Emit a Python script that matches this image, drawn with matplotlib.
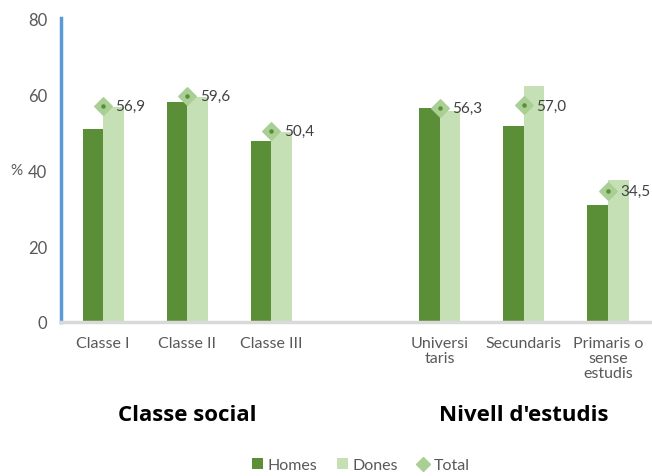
import matplotlib
matplotlib.use("Agg")
import matplotlib.pyplot as plt
import matplotlib.transforms as mtransforms
from matplotlib.lines import Line2D
from matplotlib.patches import Patch

categories = ["Classe I", "Classe II", "Classe III",
              "Universi\ntaris", "Secundaris", "Primaris o\nsense\nestudis"]
homes = [50.7, 57.8, 47.6, 56.3, 51.7, 30.9]
dones = [56.6, 59.3, 50.1, 55.5, 62.2, 37.5]
total = [56.9, 59.6, 50.4, 56.3, 57.0, 34.5]
total_labels = ["56,9", "59,6", "50,4", "56,3", "57,0", "34,5"]
groups = ["Classe social", "Nivell d'estudis"]
yticks = [0, 20, 40, 60, 80]

# slot positions: one empty slot separates the two groups
positions = [0, 1, 2, 4, 5, 6]
group_centers = [1, 5]

c_homes = "#5b8f37"
c_dones = "#c5e0b4"
c_total = "#a9cf94"
c_text = "#595959"

plt.rcParams["font.family"] = ["Lato", "DejaVu Sans"]

fig = plt.figure(figsize=(6.52, 4.77), dpi=100)
ax = fig.add_axes([0.0936, 0.3229, 0.9034, 0.6371])

w = 0.244
ax.bar([p - w / 2 for p in positions], homes, width=w, color=c_homes, zorder=2)
ax.bar([p + w / 2 for p in positions], dones, width=w, color=c_dones, zorder=2)
ax.scatter(positions, total, marker="D", s=80, color=c_total, zorder=3)
ax.scatter(positions, total, marker="o", s=5, color=c_homes, zorder=4)
for p, t, lab in zip(positions, total, total_labels):
    ax.annotate(lab, (p, t), xytext=(9, 0), textcoords="offset points",
                va="center", ha="left", fontsize=11, color="#404040", zorder=5)

ax.set_xlim(-0.5, 6.5)
ax.set_ylim(0, 80)
ax.set_yticks(yticks)
ax.set_yticklabels([str(v) for v in yticks], fontsize=12, color=c_text)
ax.set_xticks(positions)
ax.set_xticklabels(categories, fontsize=11.5, color=c_text, linespacing=1.1)
ax.tick_params(axis="x", length=0, pad=10)
ax.tick_params(axis="y", length=0, pad=10)

for s in ["top", "right"]:
    ax.spines[s].set_visible(False)
ax.spines["left"].set_color("#5b9bd5")
ax.spines["left"].set_linewidth(2.5)
ax.spines["bottom"].set_color("#d9d9d9")
ax.spines["bottom"].set_linewidth(2.5)

ax.text(-0.066, 40 / 80, "%", transform=ax.transAxes, fontsize=11, color=c_text,
        ha="right", va="center")

trans = mtransforms.blended_transform_factory(ax.transData, fig.transFigure)
for gc, g in zip(group_centers, groups):
    ax.text(gc, 1 - 416 / 477, g, transform=trans, ha="center", va="center",
            fontsize=16, fontweight="bold", color="black",
            family=["Open Sans", "DejaVu Sans"])

handles = [
    Patch(facecolor=c_homes, label="Homes"),
    Patch(facecolor=c_dones, label="Dones"),
    Line2D([], [], marker="D", color=c_total, linestyle="none", markersize=7,
           label="Total"),
]
leg = fig.legend(handles=handles, loc="center", bbox_to_anchor=(0.553, 1 - 466 / 477),
                 ncol=3, frameon=False, fontsize=11.5, handlelength=0.7,
                 handleheight=0.7, handletextpad=0.3, columnspacing=1.2)
for t in leg.get_texts():
    t.set_color(c_text)

fig.savefig("out.png", dpi=100)
